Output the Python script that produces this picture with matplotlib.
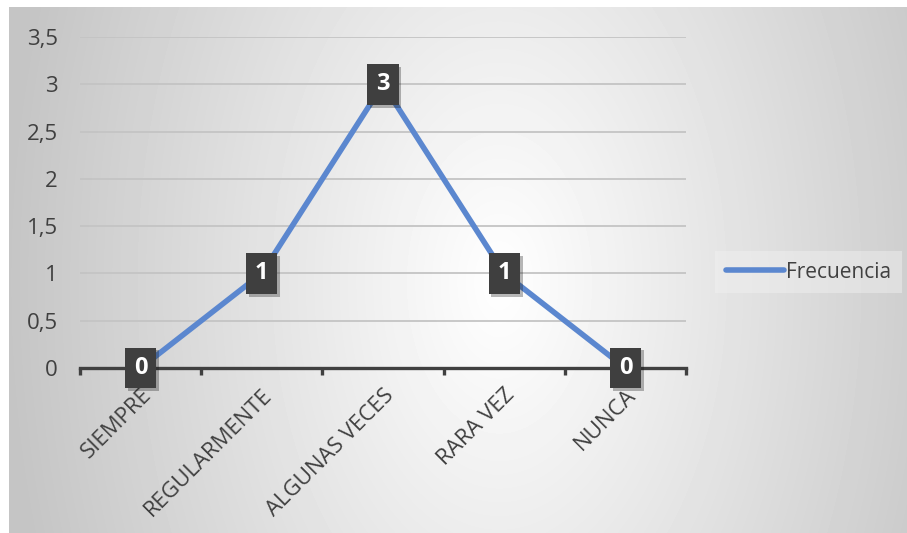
import numpy as np
from matplotlib import pyplot as plt
from matplotlib import patheffects as pe

plt.rcParams['font.family'] = ['Open Sans', 'DejaVu Sans']

categorias = ["SIEMPRE", "REGULARMENTE", "ALGUNAS VECES", "RARA VEZ", "NUNCA"]
frecuencia = [0, 1, 3, 1, 0]
yticks = [0, 0.5, 1, 1.5, 2, 2.5, 3, 3.5]
ytick_labels = ["0", "0,5", "1", "1,5", "2", "2,5", "3", "3,5"]

W, H = 907, 533
fig = plt.figure(figsize=(W / 100, H / 100), dpi=100)

# radial grey background of the chart area
bg = fig.add_axes([9 / W, 0, (W - 9) / W, (H - 7) / H], zorder=0)
ny, nx = H - 7, W - 9
yy, xx = np.mgrid[0:ny, 0:nx]
r = np.sqrt(((xx - 490) / 490.0) ** 2 + ((yy - 275) / 800.0) ** 2)
shade = 255 - 58 * np.clip(r, 0, 1)
bg.imshow(shade, cmap="gray", vmin=0, vmax=255, aspect="auto",
          extent=(0, nx, ny, 0), interpolation="bilinear")
bg.axis("off")

ax = fig.add_axes([80 / W, (H - 368) / H, 606 / W, 331 / H], zorder=1)
ax.patch.set_alpha(0)

x = np.arange(len(categorias))
ax.plot(x, frecuencia, color="#5b87cf", lw=4, solid_capstyle="round",
        zorder=3, label="Frecuencia")

# data label boxes
box = [(-0.38, -0.5), (0.38, -0.5), (0.38, 0.5), (-0.38, 0.5), (-0.38, -0.5)]
ax.plot(x, frecuencia, ls="none", marker=box, ms=29.5, mfc="#3f3f3f",
        mec="none", zorder=4, clip_on=False,
        path_effects=[pe.SimplePatchShadow(offset=(2, -2), alpha=0.3),
                      pe.Normal()])
for xi, v in zip(x, frecuencia):
    ax.text(xi, v, str(v), ha="center", va="center", color="white",
            fontsize=17, fontweight="bold", zorder=5, clip_on=False)

ax.set_xlim(-0.5, len(categorias) - 0.5)
ax.set_ylim(0, 3.5)
ax.set_yticks(yticks)
ax.set_yticklabels(ytick_labels)
ax.set_xticks(x)
ax.set_xticklabels(categorias, rotation=45, ha="right", rotation_mode="anchor")
ax.set_xticks(np.arange(-0.5, len(categorias)), minor=True)

ax.grid(axis="y", color="#c4c4c4", lw=1.3)
ax.set_axisbelow(True)
for side in ["top", "right", "left"]:
    ax.spines[side].set_visible(False)
ax.spines["bottom"].set_color("#404040")
ax.spines["bottom"].set_linewidth(2.4)
ax.spines["bottom"].set_zorder(2)

ax.tick_params(axis="y", length=0, pad=16, labelsize=16, labelcolor="#404040")
ax.tick_params(axis="x", which="major", length=0, pad=12, labelsize=16,
               labelcolor="#404040")
ax.tick_params(axis="x", which="minor", length=5, width=2.4, color="#404040",
               direction="out")

leg = ax.legend(loc="center left", bbox_to_anchor=(705 / W, 1 - 272 / H),
                bbox_transform=fig.transFigure, fontsize=15, frameon=True,
                handlelength=2.8, handletextpad=0.1, borderpad=0.5,
                fancybox=False)
leg.get_frame().set_facecolor("#f2f2f2")
leg.get_frame().set_alpha(0.45)
leg.get_frame().set_edgecolor("none")
for t_ in leg.get_texts():
    t_.set_color("#404040")
for h in leg.get_lines():
    h.set_solid_capstyle("round")

fig.savefig("out.png", dpi=100)
